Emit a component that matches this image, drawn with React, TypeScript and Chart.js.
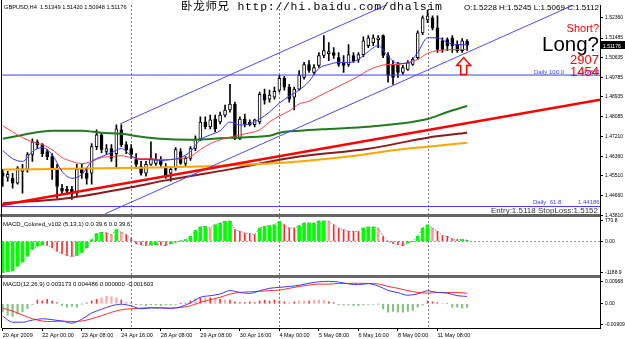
import React, { useEffect, useRef } from 'react';
import { Chart, registerables } from 'chart.js';

Chart.register(...registerables);

// ---------------- text content ----------------
const symbolTitle = 'GBPUSD,H4';
const watermarkText = '卧龙师兄 http://hi.baidu.com/dhalsim';
const dailyOhlcText = 'O:1.5228 H:1.5245 L:1.5069 C:1.5112';
const shortText = 'Short?';
const longText = 'Long?';
const countA = '2907';
const countB = '1454';
const entryText = 'Entry:1.5118 StopLoss:1.5152';
const macdColoredTitle = 'MACD_Colored_v102 (5,13,1) 0.0 39.6 0.0 39.6';
const macdTitle = 'MACD(12,26,9) 0.003173 0.004486 0.000000 -0.001603';

// ---------------- x axis ----------------
const xTickBars = [0, 8, 16, 24, 32, 40, 48, 56, 64, 72, 80, 88];
const xTickLabels = ['20 Apr 2009', '22 Apr 00:00', '23 Apr 08:00', '24 Apr 16:00', '28 Apr 08:00', '29 Apr 08:00', '30 Apr 16:00', '4 May 00:00', '5 May 08:00', '6 May 16:00', '8 May 00:00', '11 May 08:00'];
const weekStartBars = [26, 56, 86];
const X_MIN = -0.15;
const X_MAX = 120.9;

// ---------------- price panel ----------------
const priceTicks = [1.5236, 1.51485, 1.50635, 1.49785, 1.48935, 1.48085, 1.4721, 1.4636, 1.4551, 1.4466, 1.4381];
const PRICE_MIN = 1.43796;
const PRICE_MAX = 1.52918;

const candleOpen = [1.4564, 1.4545, 1.4542, 1.4520, 1.4571, 1.4580, 1.4644, 1.4699, 1.4687, 1.4657, 1.4635, 1.4584, 1.4498, 1.4493, 1.4493, 1.4476, 1.4580, 1.4563, 1.4563, 1.4678, 1.4729, 1.4657, 1.4670, 1.4648, 1.4751, 1.4687, 1.4670, 1.4622, 1.4592, 1.4563, 1.4601, 1.4605, 1.4622, 1.4592, 1.4563, 1.4584, 1.4657, 1.4605, 1.4627, 1.4670, 1.4712, 1.4785, 1.4764, 1.4798, 1.4785, 1.4815, 1.4837, 1.4862, 1.4712, 1.4798, 1.4785, 1.4773, 1.4785, 1.4905, 1.4884, 1.4893, 1.4923, 1.4974, 1.4936, 1.4893, 1.4927, 1.4978, 1.5034, 1.5000, 1.5030, 1.5073, 1.5081, 1.5086, 1.5064, 1.5043, 1.5034, 1.5073, 1.5056, 1.5077, 1.5116, 1.5129, 1.5142, 1.5159, 1.5073, 1.5034, 1.5030, 1.5000, 1.5013, 1.5034, 1.5064, 1.5171, 1.5227, 1.5236, 1.5193, 1.5137, 1.5142, 1.5150, 1.5120, 1.5094, 1.51349];
const candleHigh = [1.4580, 1.4571, 1.4563, 1.4592, 1.4601, 1.4652, 1.4712, 1.4708, 1.4691, 1.4665, 1.4648, 1.4601, 1.4515, 1.4506, 1.4506, 1.4601, 1.4601, 1.4584, 1.4691, 1.4751, 1.4738, 1.4687, 1.4687, 1.4773, 1.4773, 1.4699, 1.4687, 1.4648, 1.4614, 1.4614, 1.4699, 1.4648, 1.4635, 1.4605, 1.4588, 1.4674, 1.4670, 1.4635, 1.4678, 1.4725, 1.4807, 1.4807, 1.4815, 1.4815, 1.4828, 1.4858, 1.4948, 1.4871, 1.4807, 1.4819, 1.4794, 1.4798, 1.4914, 1.4927, 1.4923, 1.4936, 1.4987, 1.4983, 1.4948, 1.4936, 1.5008, 1.5043, 1.5051, 1.5034, 1.5086, 1.5159, 1.5129, 1.5107, 1.5086, 1.5073, 1.5120, 1.5086, 1.5086, 1.5154, 1.5159, 1.5163, 1.5159, 1.5163, 1.5086, 1.5051, 1.5043, 1.5030, 1.5051, 1.5064, 1.5180, 1.5245, 1.5270, 1.5245, 1.5245, 1.5150, 1.5150, 1.5159, 1.5137, 1.5146, 1.51420];
const candleLow = [1.4506, 1.4528, 1.4498, 1.4515, 1.4476, 1.4567, 1.4614, 1.4670, 1.4635, 1.4622, 1.4536, 1.4455, 1.4472, 1.4472, 1.4450, 1.4463, 1.4540, 1.4515, 1.4515, 1.4665, 1.4652, 1.4644, 1.4614, 1.4584, 1.4678, 1.4648, 1.4627, 1.4584, 1.4554, 1.4550, 1.4597, 1.4597, 1.4592, 1.4540, 1.4528, 1.4575, 1.4601, 1.4592, 1.4618, 1.4661, 1.4704, 1.4755, 1.4755, 1.4742, 1.4777, 1.4807, 1.4828, 1.4708, 1.4708, 1.4764, 1.4768, 1.4764, 1.4777, 1.4862, 1.4871, 1.4884, 1.4914, 1.4923, 1.4871, 1.4837, 1.4923, 1.4970, 1.5000, 1.4991, 1.5021, 1.5064, 1.5051, 1.5060, 1.5026, 1.5000, 1.5026, 1.5043, 1.5043, 1.5068, 1.5107, 1.5116, 1.5107, 1.5064, 1.4957, 1.4948, 1.4978, 1.4991, 1.5008, 1.5030, 1.5056, 1.5163, 1.5215, 1.5184, 1.5086, 1.5086, 1.5094, 1.5086, 1.5086, 1.5086, 1.50948];
const candleClose = [1.4550, 1.4558, 1.4520, 1.4585, 1.4580, 1.4644, 1.4699, 1.4687, 1.4648, 1.4635, 1.4584, 1.4506, 1.4485, 1.4485, 1.4472, 1.4580, 1.4563, 1.4540, 1.4678, 1.4729, 1.4665, 1.4670, 1.4627, 1.4755, 1.4687, 1.4665, 1.4644, 1.4601, 1.4563, 1.4601, 1.4627, 1.4622, 1.4601, 1.4550, 1.4580, 1.4665, 1.4605, 1.4627, 1.4670, 1.4712, 1.4785, 1.4764, 1.4794, 1.4755, 1.4815, 1.4837, 1.4862, 1.4712, 1.4798, 1.4777, 1.4773, 1.4794, 1.4905, 1.4880, 1.4901, 1.4918, 1.4974, 1.4936, 1.4884, 1.4927, 1.4987, 1.5034, 1.5008, 1.5021, 1.5073, 1.5094, 1.5090, 1.5073, 1.5034, 1.5030, 1.5077, 1.5051, 1.5077, 1.5137, 1.5150, 1.5150, 1.5150, 1.5073, 1.4987, 1.4978, 1.5000, 1.5021, 1.5043, 1.5056, 1.5171, 1.5236, 1.5245, 1.5193, 1.5099, 1.5099, 1.5116, 1.5116, 1.5094, 1.5137, 1.51176];

// moving averages read every 2 bars
const maStep = 2;
const fastMa = [1.4661, 1.4626, 1.4614, 1.4657, 1.4674, 1.4644, 1.4571, 1.4541, 1.4558, 1.4614, 1.4635, 1.4652, 1.4670, 1.4639, 1.4622, 1.4622, 1.4618, 1.4622, 1.4631, 1.4657, 1.4708, 1.4729, 1.4747, 1.4785, 1.4772, 1.4777, 1.4798, 1.4828, 1.4867, 1.4897, 1.4923, 1.4961, 1.5017, 1.5034, 1.5043, 1.5043, 1.5056, 1.5090, 1.5116, 1.5069, 1.5039, 1.5039, 1.5086, 1.5150, 1.5150, 1.5129, 1.5120, 1.5120];
const slowMa = [1.4768, 1.4742, 1.4717, 1.4699, 1.4687, 1.4665, 1.4631, 1.4614, 1.4605, 1.4614, 1.4631, 1.4635, 1.4639, 1.4631, 1.4626, 1.4626, 1.4622, 1.4622, 1.4626, 1.4635, 1.4665, 1.4691, 1.4708, 1.4719, 1.4729, 1.4738, 1.4751, 1.4785, 1.4811, 1.4833, 1.4863, 1.4875, 1.4897, 1.4918, 1.4940, 1.4961, 1.4983, 1.5009, 1.5026, 1.5034, 1.5034, 1.5043, 1.5056, 1.5082, 1.5094, 1.5097, 1.5099, 1.5099];
const greenMaBars = [0, 4, 10, 16, 20, 24, 28, 32, 38, 46, 54, 56, 60, 66, 74, 80, 86, 90, 94];
const greenMa = [1.4712, 1.4729, 1.4747, 1.4747, 1.4738, 1.4734, 1.4721, 1.4712, 1.4708, 1.4717, 1.4725, 1.4738, 1.4747, 1.4755, 1.4764, 1.4777, 1.4798, 1.4828, 1.4854];
const orangeMaBars = [0, 20, 32, 40, 50, 60, 70, 80, 86, 94];
const orangeMa = [1.4579, 1.4584, 1.4588, 1.4592, 1.4601, 1.4614, 1.4635, 1.4665, 1.4678, 1.4695];
const brownMaBars = [0, 13, 26, 33, 47, 60, 74, 86, 94];
const brownMa = [1.4433, 1.4455, 1.4502, 1.4532, 1.4584, 1.4635, 1.4669, 1.4717, 1.4738];

// drawn objects
const redTrendBars = [-0.15, 120.9];
const redTrendPrices = [1.4425, 1.4881];
const channelUpperBars = [23.7, 120.9];
const channelUpperPrices = [1.4776, 1.5705];
const channelLowerBars = [20.7, 120.9];
const channelLowerPrices = [1.4387, 1.5343];
const fibo100 = 1.49883;
const fibo618 = 1.44186;
const arrowMark = { bar: 93.3, price: 1.5064 };

// ---------------- MACD_Colored panel ----------------
const macdColoredTicks = [770.8, 0, -1188.9];
const macdColoredLevel = 0;
const macdColored = [-1189, -1150, -1131, -943, -792, -566, -314, -189, -140, -150, -251, -377, -470, -540, -580, -541, -420, -250, 63, 289, 339, 314, 251, 440, 339, 251, 88, -88, -138, -163, -138, -126, -140, -163, -88, -38, 13, 63, 189, 415, 541, 566, 503, 629, 691, 754, 770, 440, 377, 314, 289, 251, 503, 566, 591, 629, 754, 629, 503, 503, 591, 691, 691, 691, 770, 770, 760, 629, 503, 440, 377, 377, 377, 503, 541, 541, 503, 189, 0, -88, -126, -163, -63, 0, 189, 503, 629, 503, 377, 214, 189, 88, 63, 63, 39.6];
const macdColoredColors = 'ggggggggg' + 'rrrrrr' + 'gggggg' + 'rpgprrrrr' + 'ggrr' + 'gggggggg' + 'p' + 'gggg' + 'rrrrr' + 'ggggg' + 'rrr' + 'gggggg' + 'p' + 'rrrrrr' + 'ggg' + 'p' + 'rrrrr' + 'ggggg' + 'p' + 'rrrrr' + 'gg';

// ---------------- MACD panel ----------------
const macdTicks = [0.00968, 0, -0.00909];
const macdMain = [-0.0054, -0.0080, -0.0080, -0.0071, -0.0065, -0.0069, -0.0075, -0.0084, -0.0067, -0.0040, -0.0024, -0.0009, -0.0002, -0.0009, -0.0022, -0.0018, -0.0018, -0.0020, -0.0013, 0.0004, 0.0028, 0.0035, 0.0042, 0.0057, 0.0049, 0.0045, 0.0056, 0.0067, 0.0071, 0.0075, 0.0080, 0.0089, 0.0095, 0.0097, 0.0094, 0.0086, 0.0083, 0.0087, 0.0077, 0.0058, 0.0048, 0.0037, 0.0043, 0.0056, 0.0049, 0.0046, 0.0035, 0.0032];
const macdSignal = [-0.0019, -0.0032, -0.0049, -0.0065, -0.0075, -0.0077, -0.0075, -0.0077, -0.0075, -0.0065, -0.0052, -0.0037, -0.0026, -0.0022, -0.0019, -0.0017, -0.0018, -0.0019, -0.0016, -0.0009, 0.0006, 0.0018, 0.0028, 0.0042, 0.0049, 0.0052, 0.0054, 0.0057, 0.0059, 0.0067, 0.0075, 0.0081, 0.0085, 0.0085, 0.0088, 0.0088, 0.0089, 0.0088, 0.0086, 0.0075, 0.0067, 0.0057, 0.0049, 0.0046, 0.0049, 0.0049, 0.0049, 0.0045];
const macdHist = [-0.0035, -0.0050, -0.0055, -0.0045, -0.0035, -0.0022, -0.0003, 0.0016, 0.0012, 0.0019, 0.0012, 0.0005, -0.0008, -0.0015, -0.0011, -0.0015, -0.0001, 0.0003, 0.0012, 0.0019, 0.0026, 0.0033, 0.0030, 0.0026, 0.0016, 0.0008, 0.0003, -0.0005, -0.0005, -0.0008, -0.0005, -0.0005, -0.0008, -0.0005, -0.0005, -0.0003, 0.0001, 0.0003, 0.0012, 0.0022, 0.0026, 0.0026, 0.0026, 0.0022, 0.0019, 0.0016, 0.0016, 0.0008, 0.0005, 0.0005, 0.0008, 0.0005, 0.0012, 0.0016, 0.0012, 0.0016, 0.0012, 0.0008, 0.0005, 0.0008, 0.0012, 0.0012, 0.0012, 0.0015, 0.0016, 0.0015, 0.0008, 0.0005, -0.0005, -0.0005, -0.0005, -0.0008, -0.0008, -0.0005, -0.0003, -0.0003, -0.0001, -0.0022, -0.0036, -0.0033, -0.0036, -0.0036, -0.0033, -0.0029, -0.0015, -0.0005, 0.0012, 0.0008, 0.0005, 0.0003, 0.0000, -0.0015, -0.0015, -0.0019, -0.0016];
const macdHistColors = 'ggggggg' + 'rrrrr' + 'ggggg' + 'rrr' + 'pppp' + 'r' + 'p' + 'r' + 'ggggggggg' + 'rrr' + 'p' + 'r' + 'p' + 'r' + 'p' + 'r' + 'p' + 'rrrrrrrrrrrr' + 'p' + 'r' + 'pp' + 'r' + 'ppp' + 'rr' + 'gggggggggggggggggg' + 'rrr' + 'p' + 'r' + 'gggg';

// ---------------- helpers ----------------
const FONT = "'Liberation Sans', Arial, sans-serif";

const pts = (xs: number[], ys: number[]) => ys.map((y, i) => ({ x: xs[i], y }));
const stepPts = (ys: number[]) => ys.map((y, i) => ({ x: i * maStep, y }));

function lineDs(data: any[], color: string, width: number, axis: string, order: number, extra: any = {}) {
  return {
    type: 'line', data, yAxisID: axis, order, borderColor: color, borderWidth: width,
    pointRadius: 0, fill: false, tension: 0, ...extra,
  };
}

function colorBars(vals: number[], cols: string, key: string, color: string, thick: number, axis: string, order: number) {
  return {
    type: 'bar', yAxisID: axis, order, grouped: false, barThickness: thick,
    data: vals.map((v, i) => ({ x: i, y: v })).filter((_, i) => cols[i] === key),
    backgroundColor: color, borderWidth: 0,
  };
}

function txt(ctx: CanvasRenderingContext2D, s: string, x: number, y: number, font: string, color: string, align: CanvasTextAlign = 'left') {
  ctx.font = font;
  ctx.fillStyle = color;
  ctx.textAlign = align;
  ctx.textBaseline = 'alphabetic';
  ctx.fillText(s, x, y);
}

const mtPlugin = {
  id: 'mt4look',
  beforeDatasetsDraw(chart: any) {
    const { ctx, chartArea: ca, scales } = chart;
    ctx.save();
    ctx.lineWidth = 1;
    ctx.setLineDash([2, 2]);
    ctx.strokeStyle = '#7a7a7a';
    for (const b of weekStartBars) {
      const px = Math.round(scales.x.getPixelForValue(b)) + 0.5;
      ctx.beginPath();
      ctx.moveTo(px, ca.top);
      ctx.lineTo(px, ca.bottom);
      ctx.stroke();
    }
    const zy = Math.round(scales.y2.getPixelForValue(macdColoredLevel)) + 0.5;
    ctx.strokeStyle = '#9a9a9a';
    ctx.beginPath();
    ctx.moveTo(ca.left, zy);
    ctx.lineTo(ca.right, zy);
    ctx.stroke();
    ctx.restore();
  },
  afterDatasetsDraw(chart: any) {
    const { ctx, chartArea: ca, scales } = chart;
    ctx.save();
    ctx.fillStyle = '#666666';
    [scales.y.bottom, scales.y2.bottom].forEach((b: number) => {
      ctx.fillRect(0, Math.round(b - 1.5), ca.right, 3);
    });
    ctx.fillStyle = '#000';
    ctx.fillRect(1, 0, 1, ca.bottom);
    ctx.restore();
  },
  afterDraw(chart: any) {
    const { ctx, chartArea: ca, scales } = chart;
    const ys = scales.y;
    const R = ca.right;
    const last = candleClose.length - 1;
    ctx.save();
    // header texts
    txt(ctx, `${symbolTitle}  ${candleOpen[last].toFixed(5)} ${candleHigh[last].toFixed(5)} ${candleLow[last].toFixed(5)} ${candleClose[last].toFixed(5)}`, 4, 8.5, `5.7px ${FONT}`, '#000');
    (ctx as any).letterSpacing = '0.7px';
    txt(ctx, watermarkText, 181, 10, "11.5px 'Liberation Mono', 'Noto Sans CJK SC', monospace", '#000');
    (ctx as any).letterSpacing = '0px';
    txt(ctx, dailyOhlcText, R - 1, 9.7, `8px ${FONT}`, '#000', 'right');
    // fibo labels
    const y100 = ys.getPixelForValue(fibo100);
    const y618 = ys.getPixelForValue(fibo618);
    txt(ctx, 'Daily 100.0', R - 66, y100 - 1.5, `6px ${FONT}`, '#3c3cff');
    txt(ctx, fibo100.toFixed(5), R - 22, y100 - 1.5, `6px ${FONT}`, '#3c3cff');
    txt(ctx, 'Daily  61.8', R - 67, y618 - 3, `6px ${FONT}`, '#3c3cff');
    txt(ctx, fibo618.toFixed(5), R - 22, y618 - 3, `6px ${FONT}`, '#3c3cff');
    // signal texts
    txt(ctx, shortText, R - 1, 31.5, `11px ${FONT}`, '#ff0000', 'right');
    txt(ctx, longText, R - 1, 50.5, `20.5px ${FONT}`, '#000', 'right');
    txt(ctx, countA, R - 1, 63.5, `13px ${FONT}`, '#ff0000', 'right');
    txt(ctx, countB, R - 1, 76, `13px ${FONT}`, '#ff0000', 'right');
    txt(ctx, entryText, R - 2, ys.bottom - 3, `8px ${FONT}`, '#333', 'right');
    // sub-window titles
    txt(ctx, macdColoredTitle, 3, scales.y2.top + 10, `6px ${FONT}`, '#000');
    txt(ctx, macdTitle, 3, scales.y3.top + 9, `6px ${FONT}`, '#000');
    // up arrow
    const ax = scales.x.getPixelForValue(arrowMark.bar);
    const ay = ys.getPixelForValue(arrowMark.price);
    ctx.beginPath();
    ctx.moveTo(ax, ay);
    ctx.lineTo(ax + 7, ay + 8);
    ctx.lineTo(ax + 3, ay + 8);
    ctx.lineTo(ax + 3, ay + 17);
    ctx.lineTo(ax - 3, ay + 17);
    ctx.lineTo(ax - 3, ay + 8);
    ctx.lineTo(ax - 7, ay + 8);
    ctx.closePath();
    ctx.fillStyle = '#fff';
    ctx.fill();
    ctx.strokeStyle = '#ff0000';
    ctx.lineWidth = 1.5;
    ctx.stroke();
    // current price box
    const py = ys.getPixelForValue(candleClose[last]);
    ctx.fillStyle = '#000';
    ctx.fillRect(R + 1, Math.round(py - 4), 24, 8);
    txt(ctx, candleClose[last].toFixed(5), R + 3, Math.round(py) + 2.5, `5px ${FONT}`, '#fff');
    ctx.restore();
  },
};

function yAxis(weight: number, order: number, min: number, max: number, ticks: number[], fmt: (v: number) => string) {
  return {
    type: 'linear', position: 'right', stack: 'panes', stackWeight: weight, weight: order,
    min, max, offset: false,
    afterBuildTicks: (s: any) => { s.ticks = ticks.map((v) => ({ value: v })); },
    afterFit: (s: any) => { s.width = 25; },
    ticks: { callback: (v: any) => fmt(Number(v)), font: { size: 5, family: FONT }, color: '#000', padding: 2, autoSkip: false },
    grid: { drawOnChartArea: false, drawTicks: true, tickLength: 3, color: '#000' },
    border: { display: true, color: '#000', width: 1 },
  };
}

function buildConfig(): any {
  const n = candleClose.length;
  const idx = Array.from({ length: n }, (_, i) => i);
  const datasets: any[] = [
    // objects
    lineDs(pts(redTrendBars, redTrendPrices), '#ff0000', 2.5, 'y', 1),
    lineDs(pts(channelUpperBars, channelUpperPrices), '#4b4bff', 1, 'y', 1),
    lineDs(pts(channelLowerBars, channelLowerPrices), '#4b4bff', 1, 'y', 1),
    lineDs([{ x: X_MIN, y: fibo100 }, { x: X_MAX, y: fibo100 }], '#3c3cff', 1, 'y', 1),
    lineDs([{ x: X_MIN, y: fibo618 }, { x: X_MAX, y: fibo618 }], '#3c3cff', 1, 'y', 1),
    // moving averages
    lineDs(stepPts(fastMa), '#3535ff', 1, 'y', 2, { cubicInterpolationMode: 'monotone' }),
    lineDs(stepPts(slowMa), '#ff4040', 1, 'y', 2, { cubicInterpolationMode: 'monotone' }),
    lineDs(pts(greenMaBars, greenMa), '#237a23', 2, 'y', 2, { cubicInterpolationMode: 'monotone' }),
    lineDs(pts(orangeMaBars, orangeMa), '#ffa500', 2, 'y', 2, { cubicInterpolationMode: 'monotone' }),
    lineDs(pts(brownMaBars, brownMa), '#8b1c1c', 2, 'y', 2, { cubicInterpolationMode: 'monotone' }),
    // candles
    {
      type: 'bar', yAxisID: 'y', order: 3, grouped: false, barThickness: 3, minBarLength: 1,
      data: idx.map((i) => ({ x: i, y: [candleOpen[i], candleClose[i]] })),
      backgroundColor: idx.map((i) => (candleClose[i] >= candleOpen[i] ? '#ffffff' : '#000000')),
      borderColor: '#000', borderWidth: 1, borderSkipped: false,
    },
    {
      type: 'bar', yAxisID: 'y', order: 4, grouped: false, barThickness: 1, minBarLength: 1,
      data: idx.map((i) => ({ x: i, y: [candleLow[i], candleHigh[i]] })),
      backgroundColor: '#000', borderWidth: 0,
    },
    // MACD_Colored
    lineDs(macdColored.map((v, i) => ({ x: i, y: v })), '#8a8a8a', 1, 'y2', 1, { borderDash: [1.5, 1.5] }),
    colorBars(macdColored, macdColoredColors, 'g', '#00ff00', 3, 'y2', 3),
    colorBars(macdColored, macdColoredColors, 'r', '#ff2a2a', 1, 'y2', 3),
    colorBars(macdColored, macdColoredColors, 'p', '#ff9c9c', 2, 'y2', 3),
    // MACD
    lineDs(stepPts(macdMain), '#3a3aff', 1, 'y3', 1, { cubicInterpolationMode: 'monotone' }),
    lineDs(stepPts(macdSignal), '#ff3030', 1, 'y3', 1, { cubicInterpolationMode: 'monotone' }),
    colorBars(macdHist, macdHistColors, 'g', '#86c486', 1.5, 'y3', 3),
    colorBars(macdHist, macdHistColors, 'r', '#ff3030', 1, 'y3', 3),
    colorBars(macdHist, macdHistColors, 'p', '#ffa8a8', 1.5, 'y3', 3),
  ];

  return {
    type: 'bar',
    data: { datasets },
    plugins: [mtPlugin],
    options: {
      animation: false,
      responsive: false,
      devicePixelRatio: 1,
      events: [],
      layout: { padding: { left: 2, top: 2, right: 0, bottom: 0 } },
      plugins: { legend: { display: false }, tooltip: { enabled: false }, title: { display: false } },
      scales: {
        x: {
          type: 'linear', position: 'bottom', min: X_MIN, max: X_MAX, offset: false,
          afterBuildTicks: (s: any) => { s.ticks = xTickBars.map((v) => ({ value: Math.max(v, X_MIN) })); },
          afterFit: (s: any) => { s.height = 11; },
          ticks: {
            callback: (_v: any, i: number) => xTickLabels[i], align: 'start', maxRotation: 0, minRotation: 0,
            autoSkip: false, font: { size: 5.5, family: FONT }, color: '#000', padding: 1,
          },
          grid: { drawOnChartArea: false, drawTicks: true, tickLength: 3, color: '#000', offset: false },
          border: { display: true, color: '#000', width: 1 },
        },
        y: yAxis(212.5, 0, PRICE_MIN, PRICE_MAX, priceTicks, (v) => v.toFixed(5)),
        y2: yAxis(62, 1, -1358, 978, macdColoredTicks, (v) => (v === 0 ? '0.00' : v.toFixed(1))),
        y3: yAxis(51.5, 2, -0.01051, 0.01161, macdTicks, (v) => (v === 0 ? '0.00' : v.toFixed(5))),
      },
    },
  };
}

export default function App() {
  const ref = useRef<HTMLCanvasElement>(null);
  useEffect(() => {
    document.body.style.margin = '0';
    const canvas = ref.current;
    if (!canvas) return;
    const chart = new Chart(canvas, buildConfig());
    return () => chart.destroy();
  }, []);
  return (
    <div style={{ width: 625, height: 339, background: '#ffffff' }}>
      <canvas ref={ref} width={625} height={339} style={{ display: 'block', width: 625, height: 339 }} />
    </div>
  );
}
